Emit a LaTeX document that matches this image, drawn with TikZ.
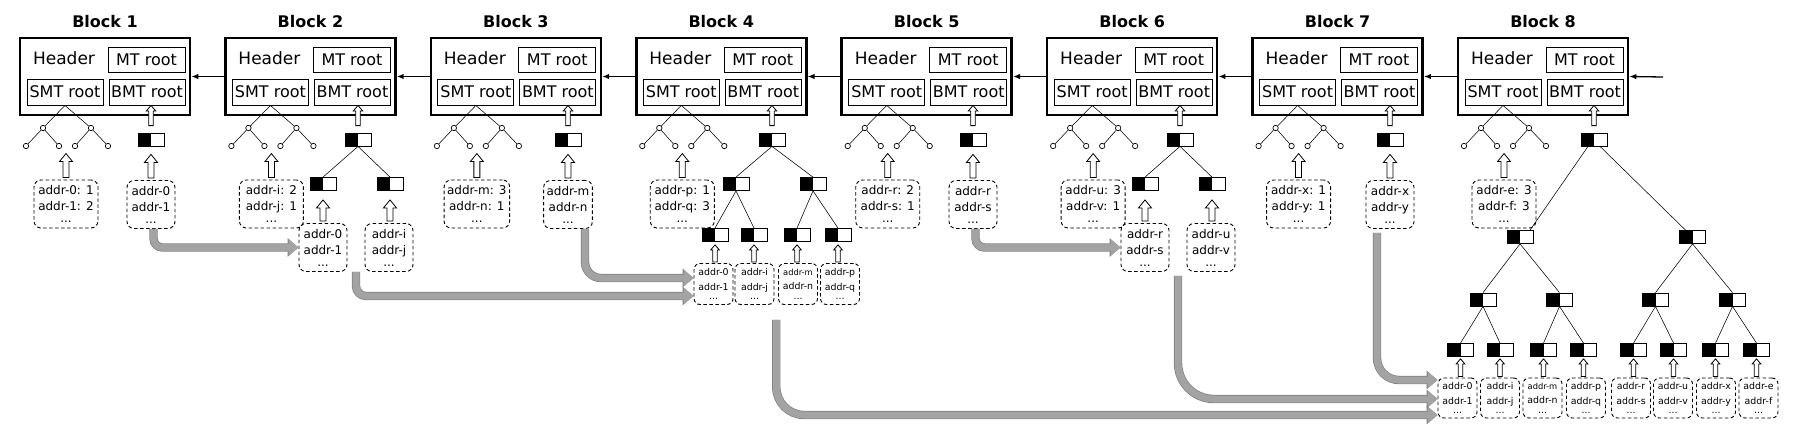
\documentclass[tikz,border=0pt]{standalone}
\usepackage{fontspec}
\setmainfont{DejaVu Sans}
\usetikzlibrary{calc,arrows.meta}
\definecolor{pipegray}{HTML}{A3A3A3}
\definecolor{pipeedge}{HTML}{7F7F7F}
\newcommand\hollowarr[5]{%
  \draw[hollow] let \p1=(#1), \p2=(#2) in
   (\x1-#3pt,\y1) -- (\x1-#3pt,\y2-#5pt) -- (\x1-#4pt,\y2-#5pt) -- (\x1,\y2) --
   (\x1+#4pt,\y2-#5pt) -- (\x1+#3pt,\y2-#5pt) -- (\x1+#3pt,\y1) -- cycle;}
\tikzset{
  blk/.style={draw, line width=2.6pt, minimum width=170pt, minimum height=77pt, inner sep=0pt},
  ttl/.style={font=\bfseries\fontsize{16}{19}\selectfont, inner sep=0pt},
  hdr/.style={font=\fontsize{17}{20}\selectfont, inner sep=0pt},
  rootbox/.style={draw, line width=0.9pt, minimum width=76pt, minimum height=26pt, inner sep=0pt, font=\fontsize{16}{19}\selectfont},
  bmtn/.style={draw, line width=0.8pt, fill=white, minimum width=26pt, minimum height=13pt, inner sep=0pt,
    path picture={\fill[black] (path picture bounding box.south west) rectangle (path picture bounding box.north);}},
  sc/.style={circle, draw, line width=0.7pt, fill=white, minimum size=5.4pt, inner sep=0pt},
  tree/.style={line width=0.55pt},
  dbox/.style={draw, line width=0.9pt, dash pattern=on 3.5pt off 2.5pt, rounded corners=7pt, align=center},
  sbox/.style={dbox, inner sep=3pt, minimum width=64pt, minimum height=48pt, font=\fontsize{12}{16}\selectfont},
  bbox/.style={dbox, inner sep=3pt, minimum width=48pt, minimum height=48pt, font=\fontsize{12}{16}\selectfont},
  lbox/.style={dbox, inner sep=1.5pt, minimum width=39pt, minimum height=41pt, rounded corners=6pt, font=\fontsize{9.4}{14.4}\selectfont},
  hollow/.style={draw, fill=white, line width=0.8pt, line join=miter},
  link/.style={line width=1.3pt, -{Latex[length=7pt,width=5.5pt]}},
  pipe/.style={draw=pipegray, line width=7pt, rounded corners=#1, -{Triangle[width=16pt,length=10pt]},
    preaction={draw=pipeedge, line width=8.4pt, -{Triangle[width=18pt,length=11pt]}}},
}
\begin{document}
\begin{tikzpicture}[x=1pt,y=-1pt]
\useasboundingbox (0,0) rectangle (1803,432);
\foreach \i/\bx/\sa/\sb in {1/151/addr-0: 1/addr-1: 2, 2/358/addr-i: 2/addr-j: 1, 3/568/addr-m: 3/addr-n: 1, 4/772/addr-p: 1/addr-q: 3, 5/973/addr-r: 2/addr-s: 1, 6/1180/addr-u: 3/addr-v: 1, 7/1390/addr-x: 1/addr-y: 1, 8/1594/addr-e: 3/addr-f: 3}{
  \pgfmathsetmacro\xo{20+205.43*(\i-1)}
  \node[ttl] (t\i) at (\xo+85,22) {Block \i};
  \node[blk] (blk\i) at (\xo+85,76.5) {};
  \node[hdr] (h\i) at (\xo+44,58) {Header};
  \node[rootbox, minimum width=77pt, minimum height=25pt] (mt\i) at (\xo+126.5,59.5) {MT root};
  \node[rootbox] (smt\i) at (\xo+45,92) {SMT root};
  \node[rootbox] (bmt\i) at (\xo+127,92) {BMT root};
  \node[sc] (ca\i) at (\xo+23,128) {};
  \node[sc] (cb\i) at (\xo+71,128) {};
  \node[sc] (cc\i) at (\xo+6,146) {};
  \node[sc] (cd\i) at (\xo+39,146) {};
  \node[sc] (ce\i) at (\xo+55,146) {};
  \node[sc] (cf\i) at (\xo+88,146) {};
  \draw[tree] (smt\i.south) -- (ca\i) -- (cc\i) (ca\i) -- (cd\i)
              (smt\i.south) -- (cb\i) -- (ce\i) (cb\i) -- (cf\i);
  \node[sbox] (sb\i) at (\xo+46,204) {\sa\\\sb\\[-4pt]...};
  \hollowarr{$(sb\i.north)+(0,-2)$}{$(sb\i.north)+(0,-26)$}{3}{6.5}{8}
  \node[bmtn] (r\i) at (\bx,139.5) {};
  \hollowarr{$(r\i.north)+(0,-7)$}{bmt\i.south}{2.3}{4.7}{5.5}
}
\foreach \i [evaluate=\i as \j using int(\i+1)] in {1,...,7}{
  \draw[link] (blk\j.west) -- (blk\i.east);
}
\coordinate (in8) at (1663,77);
\draw[link] (in8) -- (blk8.east);
% single-node BMTs
\foreach \i/\a/\b in {1/0/1, 3/m/n, 5/r/s, 7/x/y}{
  \node[bbox] (bb\i) at (r\i |- 0,204.5) {addr-\a\\addr-\b\\[-4pt]...};
  \hollowarr{$(bb\i.north)+(0,-2)$}{$(r\i.south)+(0,8)$}{3}{6.5}{8}
}
% two-level BMTs
\foreach \i/\a/\b/\c/\d in {2/0/1/i/j, 6/r/s/u/v}{
  \node[bmtn] (cl\i) at ($(r\i)+(-35,44.5)$) {};
  \node[bmtn] (cr\i) at ($(r\i)+(32,44.5)$) {};
  \draw[tree] (r\i.south) -- (cl\i.north) (r\i.south) -- (cr\i.north);
  \node[bbox] (b\i l) at ($(cl\i)+(0,63.5)$) {addr-\a\\addr-\b\\[-4pt]...};
  \node[bbox] (b\i r) at ($(cr\i)+(-1,63.5)$) {addr-\c\\addr-\d\\[-4pt]...};
  \hollowarr{$(b\i l.north)+(0,-2)$}{$(cl\i.south)+(0,9)$}{3}{6.5}{8}
  \hollowarr{$(b\i r.north -| cr\i)+(0,-2)$}{$(cr\i.south)+(0,9)$}{3}{6.5}{8}
}
% three-level BMT of block 4
\node[bmtn] (c41) at (736,184) {};
\node[bmtn] (c42) at (813,184) {};
\node[bmtn] (g41) at (715,235) {};
\node[bmtn] (g42) at (754,235) {};
\node[bmtn] (g43) at (797,235) {};
\node[bmtn] (g44) at (838,235) {};
\draw[tree] (r4.south) -- (c41.north) (r4.south) -- (c42.north)
  (c41.south) -- (g41.north) (c41.south) -- (g42.north)
  (c42.south) -- (g43.north) (c42.south) -- (g44.north);
\node[lbox] (l41) at (713.5,284) {addr-0\\addr-1\\[-5pt]...};
\node[lbox] (l42) at (754.5,284) {addr-i\\addr-j\\[-5pt]...};
\node[lbox] (l43) at (798,284) {\fontsize{8.3}{14.4}\selectfont addr-m\\addr-n\\[-5pt]...};
\node[lbox] (l44) at (840,284) {addr-p\\addr-q\\[-5pt]...};
\foreach \k in {1,2,3,4}{
  \hollowarr{$(l4\k.north -| g4\k)+(0,-1)$}{$(g4\k.south)+(0,3)$}{2.3}{4.3}{5}
}
% four-level BMT of block 8
\node[bmtn] (p81) at (1520,237) {};
\node[bmtn] (p82) at (1692.5,237) {};
\draw[tree] ($(r8.south)+(-6,0)$) -- ($(p81.north)+(10,0)$)
  ($(r8.south)+(6,0)$) -- ($(p82.north)+(-7,0)$);
\foreach \k/\x in {1/1483, 2/1559.5, 3/1655.5, 4/1732.5}{
  \node[bmtn] (q8\k) at (\x,299.5) {};
}
\draw[tree] (p81.south) -- (q81.north) (p81.south) -- (q82.north)
  (p82.south) -- (q83.north) (p82.south) -- (q84.north);
\foreach \k/\x in {1/1460.5, 2/1500, 3/1543.5, 4/1583.5, 5/1633.5, 6/1673.5, 7/1715.5, 8/1756.5}{
  \node[bmtn] (g8\k) at (\x,350) {};
}
\draw[tree] (q81.south) -- (g81.north) (q81.south) -- (g82.north)
  (q82.south) -- (g83.north) (q82.south) -- (g84.north)
  (q83.south) -- (g85.north) (q83.south) -- (g86.north)
  (q84.south) -- (g87.north) (q84.south) -- (g88.north);
\node[lbox, minimum height=40pt] (l81) at (1457.5,398) {addr-0\\addr-1\\[-5pt]...};
\node[lbox, minimum height=40pt] (l82) at (1500,398) {addr-i\\addr-j\\[-5pt]...};
\node[lbox, minimum height=40pt] (l83) at (1542.5,398) {\fontsize{8.3}{14.4}\selectfont addr-m\\addr-n\\[-5pt]...};
\node[lbox, minimum height=40pt] (l84) at (1586,398) {addr-p\\addr-q\\[-5pt]...};
\node[lbox, minimum height=40pt] (l85) at (1631,398) {addr-r\\addr-s\\[-5pt]...};
\node[lbox, minimum height=40pt] (l86) at (1673,398) {addr-u\\addr-v\\[-5pt]...};
\node[lbox, minimum height=40pt] (l87) at (1716,398) {addr-x\\addr-y\\[-5pt]...};
\node[lbox, minimum height=40pt] (l88) at (1758.5,398) {addr-e\\addr-f\\[-5pt]...};
\foreach \k in {1,...,8}{
  \hollowarr{$(l8\k.north -| g8\k)+(0,-1)$}{$(g8\k.south)+(0,2)$}{2.3}{4.3}{5}
}
% gray transfer arrows
\coordinate (s4) at ($(l42.south)!0.5!(l43.south)+(0,15)$);
\coordinate (s6) at ($(b6l.south)!0.5!(b6r.south)+(0,4)$);
\coordinate (s2) at ($(b2l.south)!0.5!(b2r.south)$);
\draw[pipe=9pt] ($(bb1.south)+(2.5,0)$) |- (b2l.west);
\draw[pipe=10pt] (s2) |- ($(l41.west)+(0,12)$);
\draw[pipe=16pt] ($(bb3.south)+(17,0)$) |- ($(l41.west)+(0,-6)$);
\draw[pipe=28pt] (s4) |- ($(l81.west)+(0,17)$);
\draw[pipe=9pt] ($(bb5.south)+(2.5,0)$) |- (b6l.west);
\draw[pipe=36pt] (s6) |- ($(l81.west)+(0,1)$);
\draw[pipe=22pt] ($(bb7.south)+(-13,4)$) |- ($(l81.west)+(0,-18)$);
\end{tikzpicture}
\end{document}
